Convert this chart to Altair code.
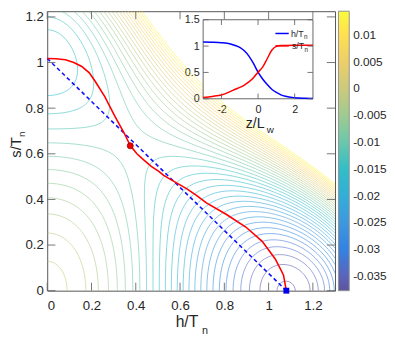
import numpy as np
import pandas as pd
import altair as alt

FONT = "Liberation Sans"

# ---------------- values ----------------
H_VEV = 1.08        # h-vacuum position (s = 0)
S_VEV = 1.01        # s-vacuum position (h = 0)
V_HMIN = -0.03766   # depth of h-vacuum
V_SMIN = -0.0160    # depth of s-vacuum
E_HS = 0.135        # h^2 s^2 coupling

LEVEL_LOW = -0.03744
LEVEL_STEP = 0.00142
LEVEL_HIGH = 0.0145

CBAR_MIN = -0.0377
CBAR_MAX = 0.0144
CBAR_TICKS = [-0.035, -0.03, -0.025, -0.02, -0.015, -0.01, -0.005, 0, 0.005, 0.01]
PARULA = ["#352a87", "#0f5cdd", "#1481d6", "#06a4ca", "#2eb7a4",
          "#87bf77", "#d1bb59", "#fec832", "#f9fb0e"]

PATH_H = [0.0, 0.04, 0.082, 0.12, 0.156, 0.19, 0.215, 0.26, 0.304, 0.348, 0.375,
          0.405, 0.437, 0.47, 0.504, 0.526, 0.58, 0.631, 0.674, 0.719, 0.808,
          0.897, 0.971, 1.03, 1.067, 1.08]
PATH_S = [1.018, 1.017, 1.012, 1.0, 0.983, 0.955, 0.92, 0.851, 0.767, 0.69, 0.636,
          0.6, 0.572, 0.545, 0.523, 0.505, 0.475, 0.446, 0.418, 0.385, 0.335,
          0.279, 0.216, 0.139, 0.069, 0.0]
LINE_H = [0.0, 1.08]
LINE_S = [1.018, 0.0]
SADDLE_H, SADDLE_S = [0.375], [0.635]
TRUEVAC_H, TRUEVAC_S = [1.08], [0.0]

Z_PTS = [-3, -2.5, -2, -1.5, -1.25, -1, -0.75, -0.5, -0.25, 0, 0.25, 0.5, 0.75,
         1, 1.25, 1.5, 2, 2.5, 3]
H_PROF = [1.078, 1.074, 1.065, 1.04, 1.012, 0.975, 0.91, 0.81, 0.67, 0.505, 0.375,
          0.27, 0.18, 0.12, 0.075, 0.047, 0.02, 0.009, 0.005]
S_PROF = [0.024, 0.045, 0.072, 0.14, 0.18, 0.215, 0.26, 0.32, 0.4, 0.505, 0.6,
          0.76, 0.92, 0.995, 1.01, 1.013, 1.015, 1.015, 1.015]

X_TICKS = [0, 0.2, 0.4, 0.6, 0.8, 1.0, 1.2]
Y_TICKS = [0, 0.2, 0.4, 0.6, 0.8, 1.0, 1.2]
INSET_X_TICKS = [-2, 0, 2]
INSET_Y_TICKS = [0, 0.5, 1, 1.5]

H_DOMAIN = [0, 1.3]
S_DOMAIN = [0, 1.225]
Z_DOMAIN = [-3, 3]
P_DOMAIN = [0, 1.5]

# ---------------- layout ----------------
W, H = 293.5, 285
INSET_XR = [159, 271]
INSET_YR = [89.3, 8.7]

# ---------------- potential & contours ----------------
a = -2 * V_HMIN / H_VEV ** 2
b = a / (2 * H_VEV ** 2)
c = -2 * V_SMIN / S_VEV ** 2
d = c / (2 * S_VEV ** 2)

hg = np.linspace(H_DOMAIN[0], H_DOMAIN[1], 131)
sg = np.linspace(S_DOMAIN[0], S_DOMAIN[1], 124)
HH, SS = np.meshgrid(hg, sg)
VV = -a * HH**2 + b * HH**4 - c * SS**2 + d * SS**4 + E_HS * HH**2 * SS**2


def march(level):
    up = VV > level
    pts = {}
    segs = []
    bl = up[:-1, :-1]; br = up[:-1, 1:]; tr = up[1:, 1:]; tl = up[1:, :-1]
    mixed = ~((bl == br) & (br == tr) & (tr == tl))
    js, iis = np.nonzero(mixed)

    def ept(key):
        if key in pts:
            return pts[key]
        kind, i, j = key
        if kind == 'h':
            z0, z1 = VV[j, i], VV[j, i + 1]
            t = (level - z0) / (z1 - z0)
            p = (hg[i] + t * (hg[i + 1] - hg[i]), sg[j])
        else:
            z0, z1 = VV[j, i], VV[j + 1, i]
            t = (level - z0) / (z1 - z0)
            p = (hg[i], sg[j] + t * (sg[j + 1] - sg[j]))
        pts[key] = p
        return p

    for j, i in zip(js, iis):
        A = up[j, i]; B_ = up[j, i + 1]; C = up[j + 1, i + 1]; D = up[j + 1, i]
        Bk = ('h', i, j); Rk = ('v', i + 1, j); Tk = ('h', i, j + 1); Lk = ('v', i, j)
        cr = []
        if A != B_: cr.append(Bk)
        if B_ != C: cr.append(Rk)
        if C != D: cr.append(Tk)
        if D != A: cr.append(Lk)
        if len(cr) == 2:
            segs.append((cr[0], cr[1]))
        else:
            center = (VV[j, i] + VV[j, i + 1] + VV[j + 1, i + 1] + VV[j + 1, i]) / 4 > level
            if center == A:
                segs.append((Bk, Rk)); segs.append((Tk, Lk))
            else:
                segs.append((Bk, Lk)); segs.append((Rk, Tk))
    adj = {}
    for k, (p, q) in enumerate(segs):
        adj.setdefault(p, []).append(k)
        adj.setdefault(q, []).append(k)
    used = [False] * len(segs)

    def walk(start, k):
        line = [start]; cur = start
        while k is not None:
            used[k] = True
            p, q = segs[k]
            nxt = q if p == cur else p
            line.append(nxt); cur = nxt
            k = None
            for kk in adj[cur]:
                if not used[kk]:
                    k = kk; break
        return line

    lines = []
    for e, ks in adj.items():
        if len(ks) == 1 and not used[ks[0]]:
            lines.append(walk(e, ks[0]))
    for k in range(len(segs)):
        if not used[k]:
            lines.append(walk(segs[k][0], k))
    return [[ept(e) for e in ln] for ln in lines]


rows = []
lid = 0
for lev in np.arange(LEVEL_LOW, LEVEL_HIGH, LEVEL_STEP):
    for ln in march(lev):
        for o, (x, y) in enumerate(ln):
            rows.append({"level": round(float(lev), 6), "lid": lid, "o": o,
                         "h": round(float(x), 4), "s": round(float(y), 4)})
        lid += 1
cdf = pd.DataFrame(rows)

# ---------------- main panel ----------------
XS = alt.Scale(domain=H_DOMAIN, nice=False, zero=False)
YS = alt.Scale(domain=S_DOMAIN, nice=False, zero=False)
LABEL_C = "#262626"
FRAME_C = "#555555"
MINUS_FIX = "replace(format(datum.value, ''), '\u2212', '-')"

contours = alt.Chart(cdf).mark_line(strokeWidth=0.6, opacity=0.8).encode(
    x=alt.X("h:Q", scale=XS, title=None,
            axis=alt.Axis(orient="bottom", values=X_TICKS, labelExpr=MINUS_FIX,
                          ticks=False, tickSize=0, domain=False, grid=False,
                          labelFontSize=13.5, labelFont=FONT, labelColor=LABEL_C,
                          labelPadding=8.5)),
    y=alt.Y("s:Q", scale=YS, title=None,
            axis=alt.Axis(orient="left", values=Y_TICKS, labelExpr=MINUS_FIX,
                          ticks=False, tickSize=0, domain=False, grid=False,
                          labelFontSize=13.5, labelFont=FONT, labelColor=LABEL_C,
                          labelPadding=4)),
    color=alt.Color("level:Q",
                    scale=alt.Scale(domain=list(np.linspace(CBAR_MIN, CBAR_MAX, len(PARULA))),
                                    range=PARULA),
                    legend=alt.Legend(orient="none", legendX=297, legendY=0,
                                      direction="vertical", gradientLength=H,
                                      gradientThickness=11, values=CBAR_TICKS,
                                      title=None, labelFontSize=12, labelFont=FONT,
                                      labelColor=LABEL_C, labelOffset=4,
                                      gradientStrokeColor="#777777",
                                      gradientStrokeWidth=1, labelOverlap=False,
                                      padding=0, labelExpr=MINUS_FIX)),
    detail="lid:N",
    order="o:Q",
)


def hx(field="h"):
    return alt.X(f"{field}:Q", scale=XS, axis=None, title=None)


def sy(field="s"):
    return alt.Y(f"{field}:Q", scale=YS, axis=None, title=None)


line_df = pd.DataFrame({"h": LINE_H, "s": LINE_S})
dashed = alt.Chart(line_df).mark_line(color="#1010ff", strokeWidth=1.6,
                                      strokeDash=[4, 3]).encode(x=hx(), y=sy())

path_df = pd.DataFrame({"h": PATH_H, "s": PATH_S, "o": range(len(PATH_H))})
path = alt.Chart(path_df).mark_line(color="#ff0000", strokeWidth=1.6).encode(
    x=hx(), y=sy(), order="o:Q")

saddle = alt.Chart(pd.DataFrame({"h": SADDLE_H, "s": SADDLE_S})).mark_point(
    filled=True, shape="circle", size=38, color="#ee0000", stroke="#990000",
    strokeWidth=0.8, opacity=1).encode(x=hx(), y=sy())

truevac = alt.Chart(pd.DataFrame({"h": TRUEVAC_H, "s": TRUEVAC_S})).mark_square(
    size=36, color="#0000ee", opacity=1).encode(x=hx(), y=sy())

TICK_H = 0.037
TICK_S = 0.035
xt = pd.DataFrame({"t": X_TICKS})
yt = pd.DataFrame({"t": Y_TICKS})
tk = dict(color="#666666", strokeWidth=0.9)
ticks_main = [
    alt.Chart(xt).mark_rule(**tk).encode(
        x=hx("t"), y=alt.Y(datum=0, scale=YS, axis=None, title=None),
        y2=alt.datum(TICK_S)),
    alt.Chart(xt).mark_rule(**tk).encode(
        x=hx("t"), y=alt.Y(datum=S_DOMAIN[1], scale=YS, axis=None, title=None),
        y2=alt.datum(S_DOMAIN[1] - TICK_S)),
    alt.Chart(yt).mark_rule(**tk).encode(
        y=sy("t"), x=alt.X(datum=0, scale=XS, axis=None, title=None),
        x2=alt.datum(TICK_H)),
    alt.Chart(yt).mark_rule(**tk).encode(
        y=sy("t"), x=alt.X(datum=H_DOMAIN[1], scale=XS, axis=None, title=None),
        x2=alt.datum(H_DOMAIN[1] - TICK_H)),
]

one = pd.DataFrame({"k": [0]})


def label(text, x, y, size, angle=0, align="center"):
    return alt.Chart(one).mark_text(text=text, font=FONT, fontSize=size,
                                    color=LABEL_C, align=align, baseline="alphabetic",
                                    angle=angle).encode(x=alt.value(x), y=alt.value(y))


titles = [
    label("h/T", 142.5, 322, 16),
    label("n", 161, 329, 11),
    label("s/T", -27, 139, 15, angle=270),
    label("n", -23, 125.5, 10, angle=270),
]

# ---------------- inset ----------------
ZS = alt.Scale(domain=Z_DOMAIN, range=INSET_XR, nice=False, zero=False)
PS = alt.Scale(domain=P_DOMAIN, range=INSET_YR, nice=False, zero=False)


def zx(field="z"):
    return alt.X(f"{field}:Q", scale=ZS, axis=None, title=None)


def py(field):
    return alt.Y(f"{field}:Q", scale=PS, axis=None, title=None)


frame_in = alt.Chart(one).mark_rect(fill="white", stroke="#666666", strokeWidth=1).encode(
    x=alt.X(datum=Z_DOMAIN[0], scale=ZS, axis=None, title=None), x2=alt.datum(Z_DOMAIN[1]),
    y=alt.Y(datum=P_DOMAIN[0], scale=PS, axis=None, title=None), y2=alt.datum(P_DOMAIN[1]))

prof = pd.DataFrame({"z": Z_PTS, "hp": H_PROF, "sp": S_PROF})
h_curve = alt.Chart(prof).mark_line(color="#0000ff", strokeWidth=1.5,
                                    interpolate="monotone").encode(
    x=alt.X("z:Q", scale=ZS, title=None,
            axis=alt.Axis(orient="bottom", offset=-(H - INSET_YR[0]), values=INSET_X_TICKS,
                          labelExpr=MINUS_FIX, ticks=False, tickSize=0, domain=False,
                          grid=False, labelFontSize=11, labelFont=FONT,
                          labelColor=LABEL_C, labelPadding=5)),
    y=alt.Y("hp:Q", scale=PS, title=None,
            axis=alt.Axis(orient="left", offset=-INSET_XR[0], values=INSET_Y_TICKS,
                          labelExpr=MINUS_FIX, ticks=False, tickSize=0, domain=False,
                          grid=False, labelFontSize=11, labelFont=FONT,
                          labelColor=LABEL_C, labelPadding=4)))
s_curve = alt.Chart(prof).mark_line(color="#ff0000", strokeWidth=1.5,
                                    interpolate="monotone").encode(x=zx(), y=py("sp"))

ITZ = 0.3
ITP = 0.1
ixt = pd.DataFrame({"t": INSET_X_TICKS})
iyt = pd.DataFrame({"t": INSET_Y_TICKS})
ticks_in = [
    alt.Chart(ixt).mark_rule(**tk).encode(
        x=zx("t"), y=alt.Y(datum=P_DOMAIN[0], scale=PS, axis=None, title=None),
        y2=alt.datum(ITP)),
    alt.Chart(ixt).mark_rule(**tk).encode(
        x=zx("t"), y=alt.Y(datum=P_DOMAIN[1], scale=PS, axis=None, title=None),
        y2=alt.datum(P_DOMAIN[1] - ITP)),
    alt.Chart(iyt).mark_rule(**tk).encode(
        y=py("t"), x=alt.X(datum=Z_DOMAIN[0], scale=ZS, axis=None, title=None),
        x2=alt.datum(Z_DOMAIN[0] + ITZ)),
    alt.Chart(iyt).mark_rule(**tk).encode(
        y=py("t"), x=alt.X(datum=Z_DOMAIN[1], scale=ZS, axis=None, title=None),
        x2=alt.datum(Z_DOMAIN[1] - ITZ)),
]


def sample(color, y):
    return alt.Chart(one).mark_rule(color=color, strokeWidth=1.5).encode(
        x=alt.value(232.7), x2=alt.value(246.3), y=alt.value(y))


inset_text = [
    sample("#0000ff", 22.7),
    sample("#ff0000", 35.3),
    label("h/T", 248.5, 26, 9, align="left"),
    label("n", 261.8, 28.8, 6.5, align="left"),
    label("s/T", 249.5, 38.6, 9, align="left"),
    label("n", 262.3, 41.4, 6.5, align="left"),
    label("z/L", 212, 119, 14.5),
    label("w", 227.5, 124.5, 10),
]

chart = alt.layer(
    contours, dashed, path, saddle, truevac, *ticks_main, *titles,
    frame_in, h_curve, s_curve, *ticks_in, *inset_text,
).resolve_scale(
    x="independent", y="independent"
).properties(
    width=W, height=H,
    autosize=alt.AutoSizeParams(type="none"),
    padding={"left": 40, "top": 0, "right": 53, "bottom": 46},
).configure_view(stroke=FRAME_C, strokeWidth=1)

chart.save("out.html", embed_options={"renderer": "svg", "actions": False})
